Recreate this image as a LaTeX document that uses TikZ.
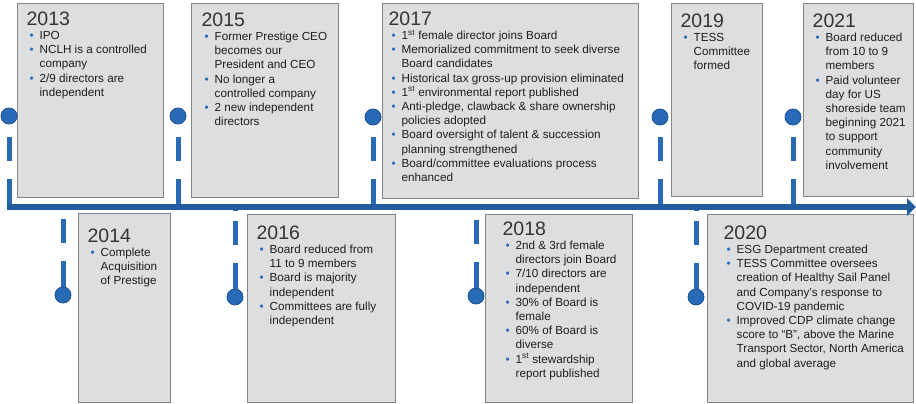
\documentclass[tikz,border=0pt]{standalone}
\usepackage{fontspec}
\setmainfont{Liberation Sans}
\usepackage{xcolor}
\usepackage{tikz}
\usetikzlibrary{arrows.meta}
\definecolor{tlblue}{RGB}{40,106,182}
\definecolor{tlbluedk}{RGB}{28,80,148}
\definecolor{panelfill}{RGB}{221,222,224}
\definecolor{panelline}{RGB}{132,132,132}
\definecolor{ink}{RGB}{30,28,30}
\definecolor{yearink}{RGB}{52,52,52}

\newcommand{\yr}[1]{{\fontsize{19.5}{22}\selectfont\color{yearink}#1}\par}
\newcommand{\bul}[1]{\par\begingroup\let\\\newline\hangindent=13pt\hangafter=1\noindent\hbox to 13pt{\hskip3pt\textcolor{tlblue}{\textbullet}\hss}#1\par\endgroup}
\newcommand{\panelbody}[5]{\parbox[t][#2][t]{#1}{\fontsize{11.7}{14.2}\selectfont\color{ink}\raggedright\leftskip=#3\relax\vspace*{#4}#5}}

\begin{document}
\begin{tikzpicture}[x=1pt,y=-1pt,
  panel/.style={draw=panelline,line width=1.3pt,fill=panelfill,inner sep=0pt,anchor=north west},
  dot/.style={circle,fill=tlblue,draw=tlbluedk,line width=0.8pt,minimum size=16pt,inner sep=0pt},
  stemup/.style={tlblue,line width=5pt,dash pattern=on 26pt off 18pt on 24pt off 13pt},
  stemdown/.style={tlblue,line width=5pt,dash pattern=on 26pt off 18pt on 24pt off 10pt},
  axisline/.style={tlblue!88!black,line width=6pt,-{Triangle[length=9pt,width=17pt]}}
]
\useasboundingbox (0,0) rectangle (916,404);

\node[panel] (p13) at (17,3) {\panelbody{146pt}{194pt}{9pt}{8pt}{\yr{2013}
  \bul{IPO}
  \bul{NCLH is a controlled\\company}
  \bul{2/9 directors are\\independent}}};
\node[panel] (p15) at (191,3) {\panelbody{147pt}{194pt}{10pt}{9pt}{\yr{2015}
  \bul{Former Prestige CEO\\becomes our\\President and CEO}
  \bul{No longer a\\controlled company}
  \bul{2 new independent\\directors}}};
\node[panel] (p17) at (382,3) {\panelbody{256pt}{195pt}{6pt}{8pt}{\yr{2017}
  \bul{1\textsuperscript{st} female director joins Board}
  \bul{Memorialized commitment to seek diverse\\Board candidates}
  \bul{Historical tax gross-up provision eliminated}
  \bul{1\textsuperscript{st} environmental report published}
  \bul{Anti-pledge, clawback \& share ownership\\policies adopted}
  \bul{Board oversight of talent \& succession\\planning strengthened}
  \bul{Board/committee evaluations process\\enhanced}}};
\node[panel] (p19) at (671,3) {\panelbody{91pt}{193pt}{9pt}{10pt}{\yr{2019}
  \bul{TESS\\Committee\\formed}}};
\node[panel] (p21) at (803,3) {\panelbody{110pt}{193pt}{9pt}{10pt}{\yr{2021}
  \bul{Board reduced\\from 10 to 9\\members}
  \bul{Paid volunteer\\day for US\\shoreside team\\beginning 2021\\to support\\community\\involvement}}};

\node[panel] (p14) at (78,213) {\panelbody{92pt}{189pt}{9pt}{15pt}{\yr{2014}
  \bul{Complete\\Acquisition\\of Prestige}}};
\node[panel] (p16) at (247,214) {\panelbody{148pt}{188pt}{9pt}{11pt}{\yr{2016}
  \bul{Board reduced from\\11 to 9 members}
  \bul{Board is majority\\independent}
  \bul{Committees are fully\\independent}}};
\node[panel] (p18) at (485,214) {\panelbody{147pt}{188pt}{17pt}{7pt}{\yr{2018}
  \bul{2nd \& 3rd female\\directors join Board}
  \bul{7/10 directors are\\independent}
  \bul{30\% of Board is\\female}
  \bul{60\% of Board is\\diverse}
  \bul{1\textsuperscript{st} stewardship\\report published}}};
\node[panel] (p20) at (707,214) {\panelbody{206pt}{188pt}{16pt}{11pt}{\yr{2020}
  \bul{ESG Department created}
  \bul{TESS Committee oversees\\creation of Healthy Sail Panel\\and Company’s response to\\COVID-19 pandemic}
  \bul{Improved CDP climate change\\score to “B”, above the Marine\\Transport Sector, North America\\and global average}}};

\coordinate (axL) at (7,207);
\coordinate (axR) at (916,207);
\coordinate (axT) at (0,205);
\coordinate (axB) at (0,209);

\node[dot] (m13) at (9,116) {};
\node[dot] (m15) at (178,116) {};
\node[dot] (m17) at (373,117) {};
\node[dot] (m19) at (660,117) {};
\node[dot] (m21) at (793,117) {};
\node[dot] (m14) at (63,295) {};
\node[dot] (m16) at (235,297) {};
\node[dot] (m18) at (476,296) {};
\node[dot] (m20) at (696,297) {};

\foreach \m in {m13,m15,m17,m19,m21}
  \draw[stemup] (\m |- axT) -- (\m.south);
\foreach \m in {m14,m16,m18,m20}
  \draw[stemdown] (\m.north) -- (\m |- axB);

\draw[axisline] (axL) -- (axR);
\end{tikzpicture}
\end{document}
